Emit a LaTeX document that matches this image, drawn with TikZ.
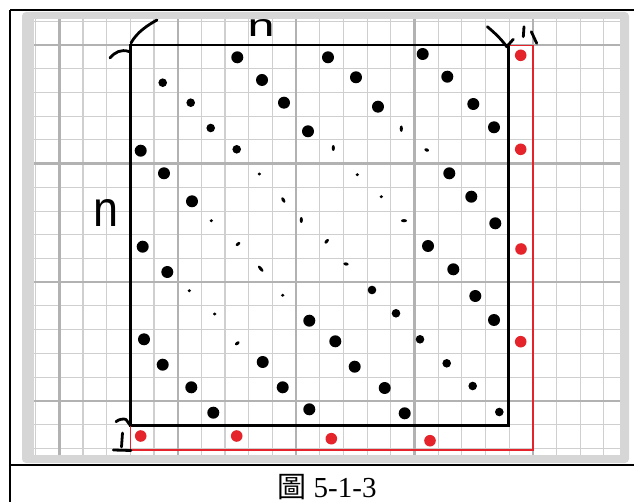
\documentclass[tikz,border=0pt]{standalone}
\usepackage{graphicx}
\usepackage{fontspec}
\setmainfont{Liberation Serif}
\newfontfamily\cjkfont{Noto Sans CJK TC}
\newfontfamily\handfont{Liberation Sans}
\usetikzlibrary{calc}
\definecolor{dotred}{RGB}{228,36,42}

\begin{document}
\begin{tikzpicture}[x=1pt, y=-1pt,
  frame/.style={line width=2pt, black},
  panel/.style={fill=gray!32, draw=none, rounded corners=4pt},
  minor/.style={draw=gray!38, line width=1.1pt},
  major/.style={draw=gray!60, line width=2.4pt},
  board/.style={draw=black, line width=2.3pt},
  border/.style={draw=dotred, line width=1.6pt},
  pen/.style={draw=black, line width=2.8pt, line cap=round, line join=round},
  hand/.style={font=\handfont, inner sep=0pt, outer sep=0pt, anchor=base},
  big/.style={fill=black},
  red/.style={fill=dotred}]

\useasboundingbox (0,0) rectangle (634,502);

%% ---- table rules ----
\draw[frame] (10,10) -- (634,10);
\draw[frame] (10,10) -- (10,502);
\draw[frame] (10,465) -- (634,465);

%% ---- squared paper ----
\fill[panel] (22,12) rectangle (629,463);
\fill[white] (34,19) rectangle (620,455);
\foreach \i in {0,...,24}
  \draw[minor] ({35.6+\i*23.68},19) -- ({35.6+\i*23.68},455);
\foreach \j in {0,...,18}
  \draw[minor] (34,{21.3+\j*23.72}) -- (620,{21.3+\j*23.72});
\foreach \i in {0,...,4}
  \draw[major] ({59.3+\i*118.4},19) -- ({59.3+\i*118.4},455);
\foreach \j in {0,...,3}
  \draw[major] (34,{45+\j*118.6}) -- (620,{45+\j*118.6});

%% ---- n x n square and the red rim ----
\draw[board] (130.5,45) rectangle (508.5,425.5);
\draw[border] (509,45.5) -- (533,45.5) -- (533,450) -- (130.5,450) -- (130.5,426);

%% ---- black points (large / medium / tiny strokes) ----
\foreach \p in {(237.3,57.3),(328,57.3),(422.7,54),(262,80),(356,77.3),(447.3,76.7),
                (284,102.7),(378,106.7),(473.3,104),(308,131.3),(494,127.3),
                (140.7,150.7),(164,173.3),(449.3,173.3),(192,201.3),(471.3,196.7),
                (495.3,223.3),(142.7,246.7),(428,246),(167.3,272),(453.3,269.3),
                (475.3,296),(309.3,320.7),(494,320),(144,339.3),(335.3,341.3),
                (162.7,364.7),(262.7,362),(354.7,366.7),(191.3,387.3),(282.7,387.3),
                (384.7,388),(213.3,412.7),(309.3,409.3),(404.7,413.3)}
  \fill[big] \p circle (6);
\foreach \p in {(162.7,82.7),(190.7,102.7),(210.7,128),(236.7,149.3),(372,290),
                (396,313.3),(420,339.3),(446.7,363.3),(472.7,386),(499.3,412)}
  \fill[big] \p circle (4.3);
\foreach \x/\y/\a/\l in {401.3/128.7/90/3.2, 333.3/148/90/3, 426.7/150/-20/2.4,
                         259.3/174/0/1.8, 357.3/174.7/0/1.8, 283.3/200/-60/3,
                         381.3/196.7/0/1.8, 211.3/220.7/0/1.8, 301.3/220/90/3,
                         404/220.7/0/3, 238/244/40/2.6, 326.7/241.3/50/2.8,
                         260.7/268.7/-50/3.8, 346/264/-10/2.6, 189.3/290.7/0/1.8,
                         282.7/295.3/0/1.8, 214.7/314/0/1.8, 237.3/343.3/35/2.6}
  \fill[big, rotate around={\a:(\x,\y)}] (\x,\y) ellipse ({\l} and 1.6);

%% ---- red points ----
\foreach \p in {(520.7,55.3),(520.7,149.3),(521,249),(520.7,341.7),
                (140.7,436),(236.7,436),(331.3,438.7),(430,440.7)}
  \fill[red] \p circle (5.8);

%% ---- handwriting ----
\node[hand] (ntop)  at (261,37)    {\resizebox{27pt}{17pt}{n}};
\node[hand] (nleft) at (106.5,227) {\resizebox{25pt}{27pt}{n}};
\draw[pen] (131,43) .. controls (137,32) and (148,25) .. (157,20);
\draw[pen] (110,58) .. controls (115,52) and (121,49) .. (129,51.5);
\draw[pen] (487.3,26.7) .. controls (495,33) and (502,40) .. (506.7,46.7) -- (513.3,39.3);
\draw[pen] (524,26.7) -- (523.3,36.7);
\draw[pen] (531.3,31.7) -- (536.7,43.3);
\draw[pen] (116,421.7) .. controls (119,419) and (124,418.5) .. (126,419.5) -- (130,425);
\draw[pen] (122.5,433) -- (121.5,447);
\draw[pen] (113.3,450) -- (131,450.5);

%% ---- caption ----
\node[anchor=base, font=\fontsize{29}{29}\selectfont, inner sep=0pt] (cap) at (327,497)
  {{\cjkfont 圖}\hspace{0.25em}5-1-3};
\end{tikzpicture}
\end{document}
